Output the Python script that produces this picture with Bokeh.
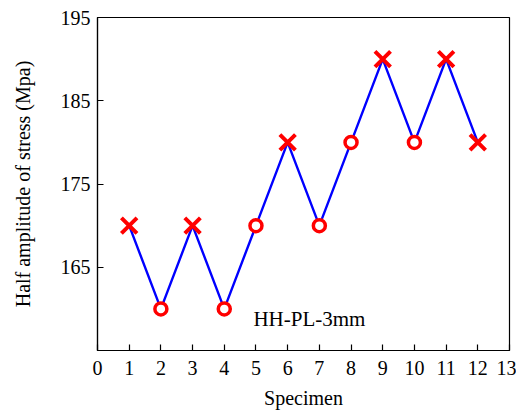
from bokeh.plotting import figure
from bokeh.models import Range1d, FixedTicker, Label
from bokeh.embed import file_html
from bokeh.resources import INLINE

specimen = [1, 2, 3, 4, 5, 6, 7, 8, 9, 10, 11, 12]
stress = [170, 160, 170, 160, 170, 180, 170, 180, 190, 180, 190, 180]
x_idx = [1, 3, 6, 9, 11, 12]
x_val = [170, 170, 180, 190, 190, 180]
o_idx = [2, 4, 5, 7, 8, 10]
o_val = [160, 160, 170, 170, 180, 180]
x_ticks = list(range(0, 14))
y_ticks = [165, 175, 185, 195]

FONT = "Liberation Serif"
FS = "20px"

p = figure(width=516, height=416, output_backend="svg", toolbar_location=None,
           x_range=Range1d(0, 13), y_range=Range1d(155, 195),
           min_border_left=97, min_border_right=7, min_border_top=17, min_border_bottom=66)
p.background_fill_color = "white"
p.border_fill_color = "white"
p.outline_line_color = "black"
p.outline_line_width = 1.2
p.grid.visible = False

p.line(specimen, stress, line_color="#0000ff", line_width=2.4)
p.scatter(x_idx, x_val, marker="x", size=22, line_color="#ff0000", line_width=4)
p.scatter(o_idx, o_val, marker="circle", size=12, line_color="#ff0000", line_width=3.5,
          fill_color="white")

p.add_layout(Label(x=4.92, y=157.4, text="HH-PL-3mm", text_font=FONT,
                   text_font_size="21px", text_color="black"))

for ax in (p.xaxis[0], p.yaxis[0]):
    ax.major_tick_in = 6
    ax.major_tick_out = 0
    ax.minor_tick_line_color = None
    ax.axis_line_color = "black"
    ax.axis_line_width = 1.2
    ax.major_tick_line_color = "black"
    ax.major_tick_line_width = 1.2
    ax.major_label_text_font = FONT
    ax.major_label_text_font_size = FS
    ax.major_label_text_color = "black"
    ax.axis_label_text_font = FONT
    ax.axis_label_text_font_size = FS
    ax.axis_label_text_font_style = "normal"
    ax.axis_label_text_color = "black"

p.xaxis[0].ticker = FixedTicker(ticks=x_ticks)
p.yaxis[0].ticker = FixedTicker(ticks=y_ticks)
p.xaxis[0].axis_label = "Specimen"
p.yaxis[0].axis_label = "Half amplitude of stress (Mpa)"
p.xaxis[0].major_label_standoff = 10
p.yaxis[0].major_label_standoff = 7
p.xaxis[0].axis_label_standoff = 9
p.yaxis[0].axis_label_standoff = 24

open("out.html", "w").write(file_html(p, INLINE))
